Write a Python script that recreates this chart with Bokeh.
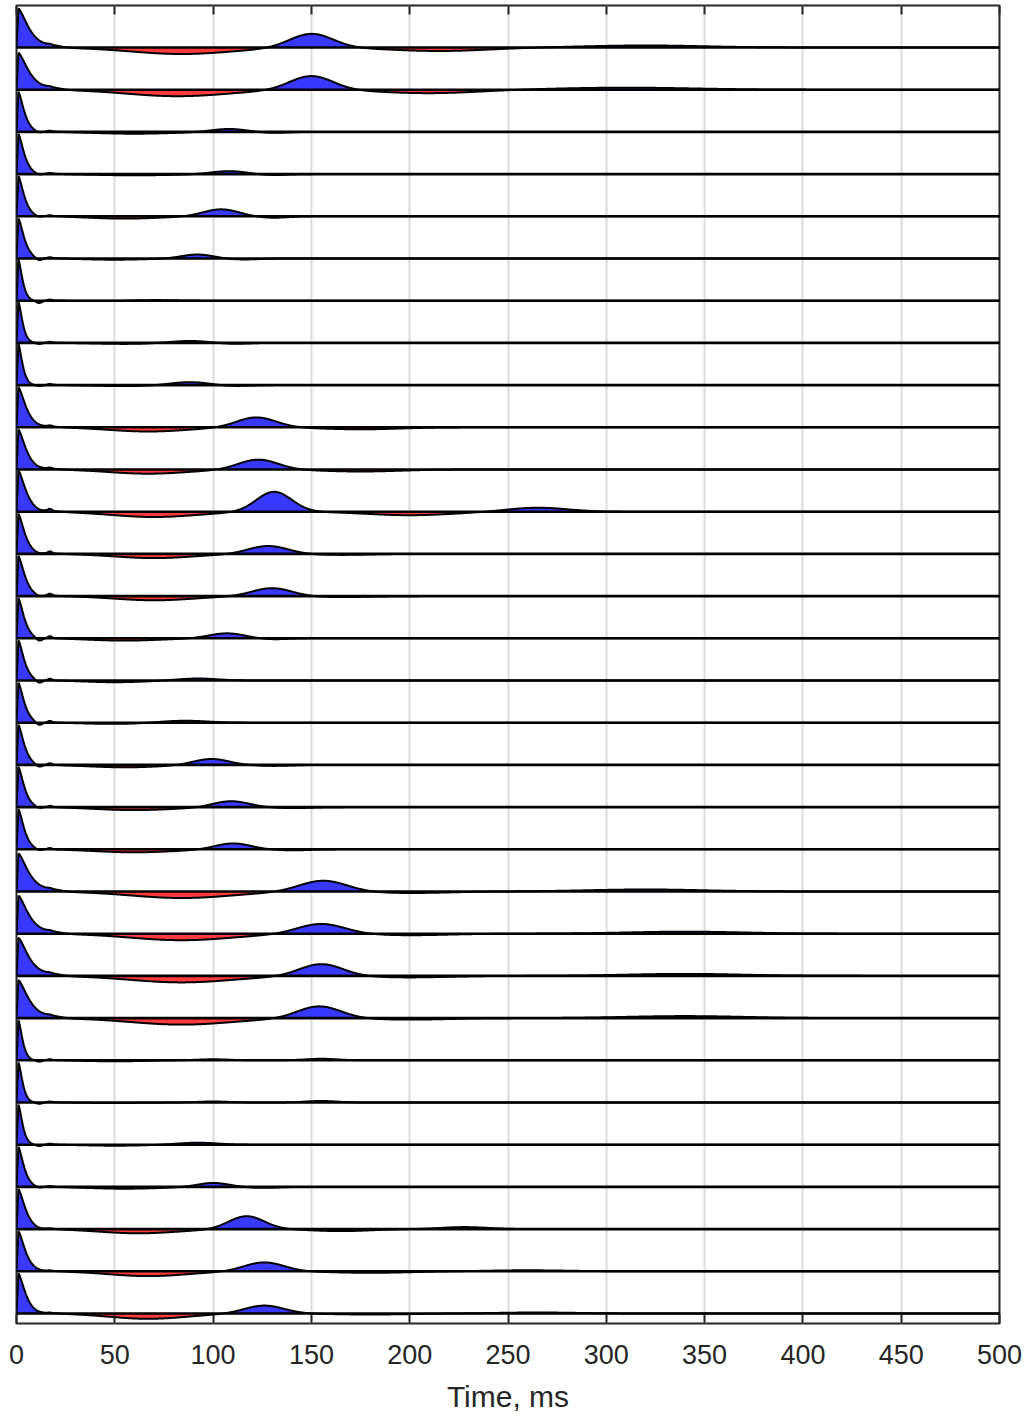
import numpy as np
from bokeh.plotting import figure
from bokeh.models import Range1d, LinearAxis, FixedTicker, Span
from bokeh.embed import file_html
from bokeh.resources import INLINE

# ---- data (31 traces, top to bottom) ----
# amplitudes are in pixels of the original picture (trace spacing = 42.2)
tick_values = [0, 50, 100, 150, 200, 250, 300, 350, 400, 450, 500]

# initial pulse: amplitude and decay width (ms)
a0 = [39, 37, 40, 40, 40, 40, 41, 41, 41, 40, 40, 41, 40, 40, 40, 40,
      40, 40, 40, 40, 38, 38, 38, 38, 40, 40, 40, 40, 40, 40, 40]
w0 = [7.0, 7.0, 4.0, 4.0, 4.0, 4.0, 2.8, 2.8, 2.8, 5.2, 5.2, 5.2, 4.4, 4.4,
      4.0, 4.0, 4.0, 4.0, 4.0, 4.0, 7.0, 7.0, 7.0, 7.0, 2.8, 2.8, 2.8, 3.8,
      4.8, 4.8, 4.8]
# small early tail (10-30 ms)
tail_amp = [1.8, 1.8, 0.5, 0.5, 0.5, 0.5, 0.3, 0.3, 0.3, 0.8, 0.8, 0.8, 0.5,
            0.5, 0.3, 0.3, 0.3, 0.3, 0.3, 0.3, 1.8, 1.8, 1.8, 1.8, 0.3, 0.3,
            0.3, 0.3, 0.5, 0.5, 0.5]
# notch near 11.5 ms and bump near 17 ms
notch_amp = [0, 0, 1.2, 1.2, 1.2, 2.5, 2.5, 1.2, 1.2, 0, 0, 0.5, 0.5, 1.0,
             3.0, 3.0, 3.0, 2.5, 1.5, 1.5, 0, 0, 0, 0, 1.5, 1.5, 1.5, 1.2,
             0.5, 0, 0]
bump_amp = [0.5, 0.5, 0.8, 0.8, 0.8, 0.8, 0.8, 0.8, 0.8, 1.0, 1.0, 2.0,
            2.0, 2.0, 2.0, 1.5, 1.5, 1.5, 1.2, 1.2, 0.5, 0.5, 0.5, 0.5,
            0.8, 0.8, 0.8, 0.8, 0.5, 0.5, 0.5]
# first negative lobe: time (ms), amplitude, width (ms)
n1_t = [84, 82, 60, 60, 55, 50, 60, 55, 55, 67, 67, 70, 70, 70, 55, 50,
        50, 55, 60, 60, 84, 84, 84, 84, 50, 50, 50, 55, 62, 67, 67]
n1_a = [6.5, 6.5, 1.8, 1.2, 2.3, 1.2, 0.5, 1.0, 1.0, 4.2, 4.2, 5.3, 4.2,
        4.2, 2.3, 1.7, 1.2, 2.4, 3.0, 3.0, 6.5, 6.5, 6.5, 6.5, 1.0, 0.5,
        1.0, 1.8, 4.2, 4.8, 5.3]
n1_w = [26, 26, 20, 20, 18, 15, 15, 15, 15, 20, 20, 22, 20, 20, 18, 15,
        15, 18, 20, 20, 26, 26, 26, 26, 15, 15, 15, 18, 20, 20, 20]
# main positive arrival: time (ms), amplitude, width (ms)
p1_t = [150, 150, 108, 108, 104, 92, 68, 88, 88, 122, 123, 131, 128, 130,
        107, 92, 85, 99, 109, 110, 156, 155, 155, 154, 155, 155, 92, 100,
        117, 126, 126]
p1_a = [14, 14, 3, 3, 7, 4, 1, 2, 3, 10, 10, 20, 8, 8, 5, 2, 2, 6, 6, 6,
        11, 10, 12, 12, 1.5, 1.5, 2, 4, 13, 9, 8]
p1_w = [11, 11, 9, 9, 9, 8, 12, 10, 10, 10, 10, 9, 10, 10, 9, 10, 12, 9,
        9, 9, 12, 12, 11, 11, 8, 8, 10, 8, 9, 10, 10]
# second negative lobe
n2_t = [215, 210, 130, 130, 130, 115, 120, 110, 110, 175, 175, 200, 165,
        165, 130, 120, 120, 130, 140, 140, 200, 200, 200, 200, 120, 120,
        120, 125, 165, 180, 180]
n2_a = [3.5, 3.5, 1.0, 1.0, 1.5, 1.0, 0, 1.0, 1.0, 2.0, 2.0, 3.5, 1.0, 1.0,
        1.0, 0, 0, 1.0, 1.0, 1.0, 1.5, 1.5, 1.5, 1.5, 0, 0, 0, 1.0, 2.0,
        1.5, 1.0]
n2_w = [25, 25, 8, 8, 8, 8, 8, 8, 8, 20, 20, 22, 15, 15, 8, 8, 8, 10, 10,
        10, 20, 20, 20, 20, 8, 8, 8, 8, 15, 20, 20]
# late positive bump
p2_t = [320, 310, 0, 0, 0, 0, 0, 0, 0, 0, 0, 265, 0, 0, 0, 0, 0, 0, 0, 0,
        320, 340, 340, 340, 100, 100, 0, 0, 228, 260, 265]
p2_a = [2.0, 2.0, 0, 0, 0, 0, 0, 0, 0, 0, 0, 4.0, 0, 0, 0, 0, 0, 0, 0, 0,
        2.0, 2.0, 2.0, 2.0, 1.0, 1.0, 0, 0, 2.0, 1.0, 1.0]
p2_w = [30, 35, 1, 1, 1, 1, 1, 1, 1, 1, 1, 15, 1, 1, 1, 1, 1, 1, 1, 1,
        30, 30, 30, 30, 8, 8, 1, 1, 12, 20, 20]

spacing_px = 42.2
n_tr = len(a0)

BLUE = "#3838ff"
RED = "#ff3a3a"
INK = "#262626"

p = figure(width=1029, height=1416, output_backend="svg",
           toolbar_location=None, y_axis_location=None,
           x_range=Range1d(0, 500), y_range=Range1d(-0.237, n_tr - 1 + 0.995),
           min_border_left=16, min_border_right=30, min_border_top=5,
           min_border_bottom=93)
p.background_fill_color = "white"
p.border_fill_color = "white"
p.outline_line_color = INK
p.outline_line_width = 2

t = np.arange(0, 500.001, 0.2)


def g(tt, c, w):
    return np.exp(-((tt - c) / w) ** 2)


for i in range(n_tr):
    base = n_tr - 1 - i
    pulse = np.where(t < 1.0, t / 1.0,
                     np.exp(-(np.abs(t - 1.0) / w0[i]) ** 1.4))
    v = a0[i] * pulse
    v += tail_amp[i] * g(t, 18, 7)
    v -= notch_amp[i] * g(t, 11.5, 2.2)
    v += bump_amp[i] * g(t, 17, 1.6)
    v -= n1_a[i] * g(t, n1_t[i], n1_w[i] * 1.41)
    v += p1_a[i] * g(t, p1_t[i], p1_w[i] * 1.41)
    v -= n2_a[i] * g(t, n2_t[i], n2_w[i] * 1.41)
    v += p2_a[i] * g(t, p2_t[i], p2_w[i] * 1.41)
    v = v / spacing_px
    p.varea(x=t, y1=np.full_like(t, base), y2=base + np.maximum(v, 0),
            fill_color=BLUE, fill_alpha=1.0)
    p.varea(x=t, y1=np.full_like(t, base), y2=base + np.minimum(v, 0),
            fill_color=RED, fill_alpha=1.0)
    p.line(t, base + v, line_color="black", line_width=2.0)
    p.add_layout(Span(location=base, dimension="width", line_color="black",
                      line_width=2.6))

ticker = FixedTicker(ticks=tick_values)
xa = p.xaxis[0]
xa.ticker = ticker
xa.axis_label = "Time, ms"
xa.axis_label_text_font = "Liberation Sans"
xa.axis_label_text_font_style = "normal"
xa.axis_label_text_font_size = "30px"
xa.axis_label_text_color = INK
xa.axis_label_standoff = 13
xa.major_label_text_font = "Liberation Sans"
xa.major_label_text_font_size = "27px"
xa.major_label_text_color = INK
xa.major_label_standoff = 21
xa.major_tick_in = 9
xa.major_tick_out = 0
xa.major_tick_line_color = INK
xa.major_tick_line_width = 2
xa.minor_tick_line_color = None
xa.axis_line_color = None

top = LinearAxis(ticker=ticker, major_label_text_font_size="1px",
                 major_label_text_color=None, major_label_standoff=0,
                 major_tick_in=9, major_tick_out=0, major_tick_line_color=INK,
                 major_tick_line_width=2, minor_tick_line_color=None,
                 axis_line_color=None)
p.add_layout(top, "above")

p.xgrid.ticker = ticker
p.xgrid.grid_line_color = "#dcdcdc"
p.xgrid.grid_line_width = 2
p.ygrid.grid_line_color = None

open("out.html", "w").write(file_html(p, INLINE))
